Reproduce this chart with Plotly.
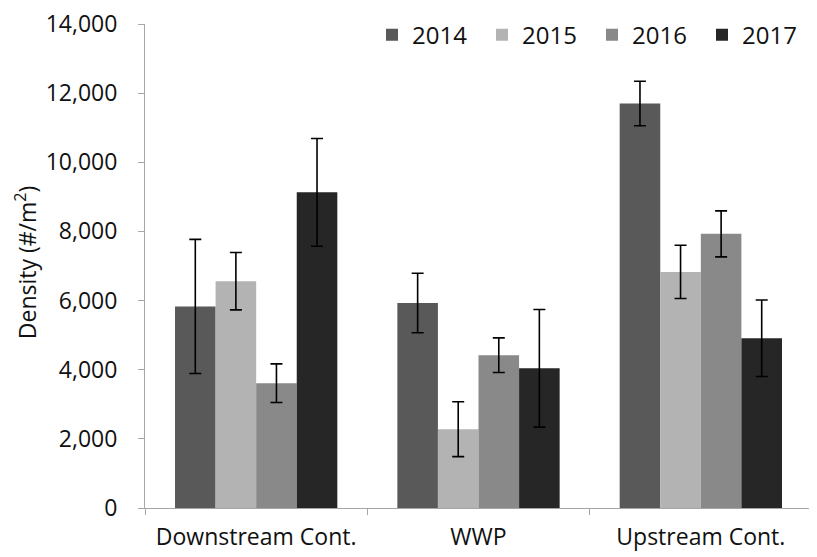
import plotly.graph_objects as go

categories = ["Downstream Cont.", "WWP", "Upstream Cont."]
years = ["2014", "2015", "2016", "2017"]
values = {
    "2014": [5830, 5930, 11700],
    "2015": [6560, 2280, 6830],
    "2016": [3610, 4420, 7930],
    "2017": [9130, 4040, 4910],
}
errors = {
    "2014": [1940, 860, 645],
    "2015": [830, 795, 770],
    "2016": [560, 500, 665],
    "2017": [1560, 1700, 1105],
}
colors = {"2014": "#595959", "2015": "#b3b3b3", "2016": "#898989", "2017": "#262626"}
y_title = "Density (#/m<sup>2</sup>)"

fig = go.Figure()
for y in years:
    fig.add_trace(go.Bar(
        x=categories, y=values[y], name=y,
        marker=dict(color=colors[y], line=dict(width=0)),
        error_y=dict(type="data", array=errors[y], visible=True,
                     color="#000000", thickness=1.6, width=6),
    ))

# page body has an 8px default margin, so figure is 8px smaller than the window
fig.update_layout(
    width=809, height=549,
    barmode="group", bargap=0.27, bargroupgap=0,
    plot_bgcolor="white", paper_bgcolor="white",
    margin=dict(l=137, r=5, t=14, b=49),
    font=dict(family="Open Sans, Liberation Sans, sans-serif", size=23, color="#111111"),
    legend=dict(orientation="h", x=1.0, xanchor="right", y=0.977, yanchor="middle",
                font=dict(size=24), itemwidth=30, traceorder="normal",
                entrywidth=65, entrywidthmode="pixels",
                bgcolor="rgba(0,0,0,0)"),
    xaxis=dict(showline=True, linecolor="#a6a6a6", linewidth=1, automargin=False,
               ticks="outside", tickson="boundaries", ticklen=6, tickcolor="#a6a6a6",
               ticklabelstandoff=8, ticklabeloverflow="allow",
               showgrid=False, tickfont=dict(size=23)),
    yaxis=dict(range=[0, 14000], dtick=2000, tickformat=",d", automargin=False,
               showline=True, linecolor="#a6a6a6", linewidth=1,
               ticks="outside", ticklen=6, tickcolor="#a6a6a6",
               ticklabelstandoff=16, ticklabeloverflow="allow",
               showgrid=False, zeroline=False, tickfont=dict(size=23)),
    annotations=[dict(text=y_title, textangle=-90, xref="paper", yref="paper",
                      x=-0.179, y=0.507, xanchor="center", yanchor="middle",
                      showarrow=False, font=dict(size=23))],
)

fig.write_html("out.html")
